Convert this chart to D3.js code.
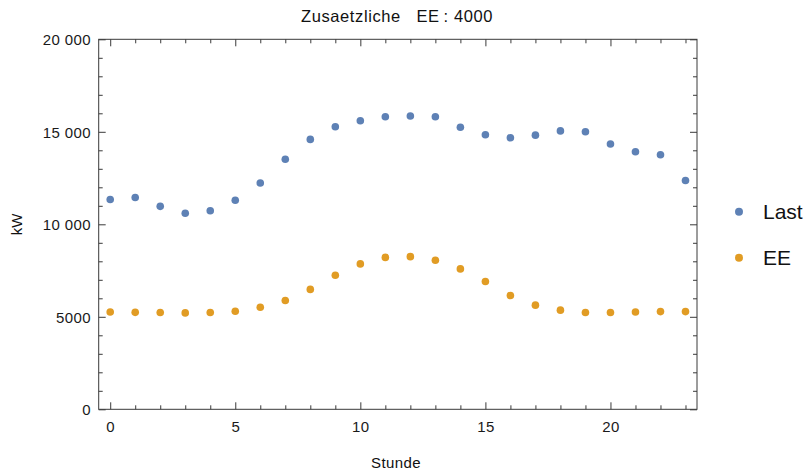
<!DOCTYPE html>
<html>
<head>
<meta charset="utf-8">
<script src="https://cdn.jsdelivr.net/npm/d3@7/dist/d3.min.js"></script>
<style>
  html, body { margin: 0; padding: 0; background: #fff; }
  svg { display: block; font-family: "Liberation Sans", Arial, Helvetica, sans-serif; }
</style>
</head>
<body>
<svg id="chart" width="812" height="471"></svg>
<script>
// ---- data ----
const hours = [0,1,2,3,4,5,6,7,8,9,10,11,12,13,14,15,16,17,18,19,20,21,22,23];
const lastValues = [11340,11450,10970,10600,10730,11300,12230,13520,14590,15270,15600,15810,15850,15810,15250,14840,14680,14820,15050,15000,14340,13920,13760,12370];
const eeValues = [5260,5240,5230,5210,5230,5300,5520,5880,6480,7250,7860,8210,8250,8060,7590,6910,6150,5630,5360,5230,5230,5260,5280,5280];
const seriesNames = ["Last", "EE"];
const seriesColors = ["#5E81B5", "#E19C24"];
const xMajorTicks = [0,5,10,15,20];
const xTickLabels = ["0","5","10","15","20"];
const yMajorTicks = [0,5000,10000,15000,20000];
const yTickLabels = ["0","5000","10 000","15 000","20 000"];
const titleText = "Zusaetzliche   EE\u2009: 4000";
const xLabel = "Stunde";
const yLabel = "kW";

// ---- layout ----
const svg = d3.select("#chart");
const L = 98.7, R = 697, T = 39.3, B = 409.3;
const x = d3.scaleLinear().domain([-0.46, 23.46]).range([L, R]);
const y = d3.scaleLinear().domain([0, 20000]).range([B, T]);
const frameColor = "#3a3a3a";

const xMinor = d3.range(0, 24).filter(v => !xMajorTicks.includes(v));
const yMinor = d3.range(0, 20001, 1000).filter(v => !yMajorTicks.includes(v));

function styleAxis(g) {
  g.select(".domain").remove();
  g.selectAll(".tick line").attr("stroke", frameColor).attr("stroke-width", 1);
  g.selectAll("text").attr("fill", "#1a1a1a").style("font-size", "15px")
    .style("letter-spacing", "0.4px").attr("xml:space", "preserve");
}

// bottom axis
svg.append("g").attr("transform", `translate(0,${B})`)
  .call(d3.axisBottom(x).tickValues(xMinor).tickSize(-4).tickFormat(""))
  .call(styleAxis);
svg.append("g").attr("transform", `translate(0,${B})`)
  .call(d3.axisBottom(x).tickValues(xMajorTicks).tickSize(-7)
    .tickFormat((d, i) => xTickLabels[i]))
  .call(styleAxis)
  .call(g => g.selectAll("text").attr("y", 23).attr("dy", "0"));
// top axis (no labels)
svg.append("g").attr("transform", `translate(0,${T})`)
  .call(d3.axisTop(x).tickValues(xMinor).tickSize(-4).tickFormat(""))
  .call(styleAxis);
svg.append("g").attr("transform", `translate(0,${T})`)
  .call(d3.axisTop(x).tickValues(xMajorTicks).tickSize(-7).tickFormat(""))
  .call(styleAxis);
// left axis
svg.append("g").attr("transform", `translate(${L},0)`)
  .call(d3.axisLeft(y).tickValues(yMinor).tickSize(-4).tickFormat(""))
  .call(styleAxis);
svg.append("g").attr("transform", `translate(${L},0)`)
  .call(d3.axisLeft(y).tickValues(yMajorTicks).tickSize(-7)
    .tickFormat((d, i) => yTickLabels[i]))
  .call(styleAxis)
  .call(g => g.selectAll("text").attr("x", -7.7).attr("dy", "0.35em"));
// right axis (no labels)
svg.append("g").attr("transform", `translate(${R},0)`)
  .call(d3.axisRight(y).tickValues(yMinor).tickSize(-4).tickFormat(""))
  .call(styleAxis);
svg.append("g").attr("transform", `translate(${R},0)`)
  .call(d3.axisRight(y).tickValues(yMajorTicks).tickSize(-7).tickFormat(""))
  .call(styleAxis);

// frame
svg.append("rect")
  .attr("x", L).attr("y", T).attr("width", R - L).attr("height", B - T)
  .attr("fill", "none").attr("stroke", frameColor).attr("stroke-width", 1);

// points
const series = [lastValues, eeValues];
series.forEach((vals, si) => {
  svg.append("g").selectAll("circle")
    .data(hours.map((h, i) => ({ h, v: vals[i] })))
    .join("circle")
    .attr("cx", d => x(d.h))
    .attr("cy", d => y(d.v))
    .attr("r", 3.8)
    .attr("fill", seriesColors[si]);
});

// title
svg.append("text")
  .attr("x", 397).attr("y", 21.7)
  .attr("text-anchor", "middle")
  .attr("xml:space", "preserve")
  .style("white-space", "pre")
  .style("font-size", "16.5px").style("letter-spacing", "0.6px")
  .attr("fill", "#111")
  .text(titleText);

// axis labels
svg.append("text")
  .attr("x", 396).attr("y", 467.5)
  .attr("text-anchor", "middle")
  .style("font-size", "15px").style("letter-spacing", "0.4px")
  .attr("fill", "#111")
  .text(xLabel);
svg.append("text")
  .attr("transform", `translate(22.3,224.3) rotate(-90)`)
  .attr("text-anchor", "middle")
  .style("font-size", "15px")
  .attr("fill", "#111")
  .text(yLabel);

// legend
const legendY = [211.7, 257.7];
seriesNames.forEach((name, i) => {
  svg.append("circle").attr("cx", 739).attr("cy", legendY[i]).attr("r", 4)
    .attr("fill", seriesColors[i]);
  svg.append("text").attr("x", 763).attr("y", legendY[i]).attr("dy", "0.36em")
    .style("font-size", "21px").attr("fill", "#111").text(name);
});
</script>
</body>
</html>
